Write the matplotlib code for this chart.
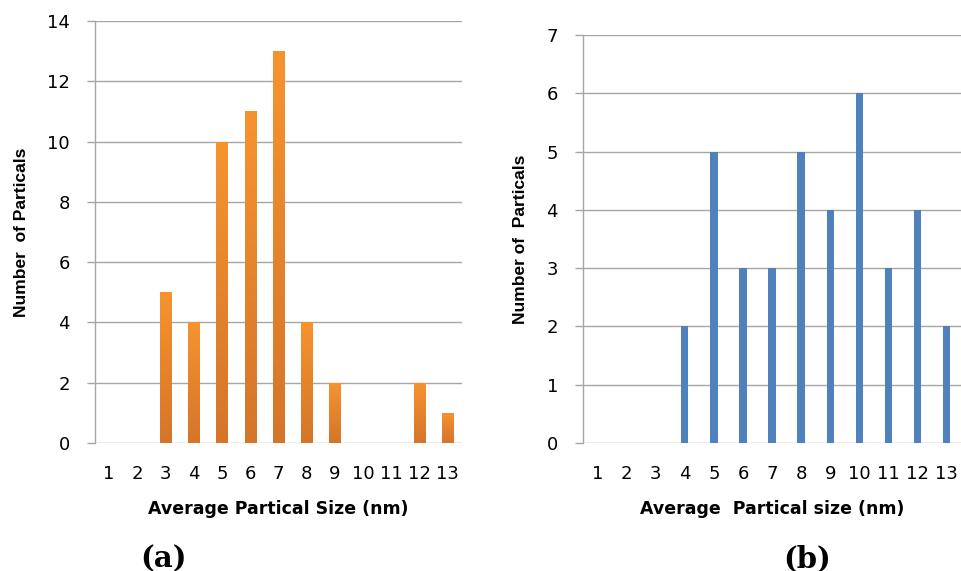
import numpy as np
import matplotlib.pyplot as plt
from matplotlib.colors import LinearSegmentedColormap

sizes = [1, 2, 3, 4, 5, 6, 7, 8, 9, 10, 11, 12, 13]
counts_a = [0, 0, 5, 4, 10, 11, 13, 4, 2, 0, 0, 2, 1]
counts_b = [0, 0, 0, 2, 5, 3, 3, 5, 4, 6, 3, 4, 2]

grid_col = '#a6a6a6'

fig = plt.figure(figsize=(9.61, 5.71), dpi=100)
ax1 = fig.add_axes([0.0989, 0.2242, 0.3819, 0.739])
ax2 = fig.add_axes([0.6067, 0.2242, 0.3933, 0.7145])

orange = LinearSegmentedColormap.from_list('og', ['#d4752a', '#f7932f'])


def style(ax, ymax, step):
    ax.set_xlim(0.5, 13.5)
    ax.set_ylim(0, ymax)
    ax.set_yticks(np.arange(0, ymax + 0.1, step))
    ax.set_xticks(sizes)
    ax.set_xticklabels([str(s) for s in sizes])
    ax.grid(axis='y', color=grid_col, lw=1.0, zorder=0)
    ax.set_axisbelow(True)
    for s in ['top', 'right', 'bottom']:
        ax.spines[s].set_visible(False)
    ax.spines['left'].set_color(grid_col)
    ax.spines['left'].set_linewidth(1.0)
    ax.tick_params(axis='y', length=6, color=grid_col, width=1.0, pad=12,
                   labelsize=13)
    ax.tick_params(axis='x', length=0, pad=16, labelsize=13)


# panel (a) - orange bars with vertical gradient
bars = ax1.bar(sizes, counts_a, width=0.4, color='none', zorder=2)
grad = np.linspace(0, 1, 256).reshape(-1, 1)
for b in bars:
    if b.get_height() <= 0:
        continue
    x0, y0 = b.get_x(), b.get_y()
    im = ax1.imshow(grad, cmap=orange, origin='lower', aspect='auto',
                    extent=[x0, x0 + b.get_width(), y0, y0 + b.get_height()],
                    zorder=2)
    im.set_clip_path(b)
style(ax1, 14, 2)
ax1.set_ylabel('Number  of Particals', fontsize=12.5, fontweight='bold',
               family='Liberation Sans')
ax1.yaxis.set_label_coords(-0.181, 0.5)
ax1.set_xlabel('Average Partical Size (nm)', fontsize=12.5, fontweight='bold',
               labelpad=12)

# panel (b) - blue bars
ax2.bar(sizes, counts_b, width=0.25, color='#4f81bd', zorder=2)
style(ax2, 7, 1)
ax2.set_ylabel('Number of  Particals', fontsize=12.5, fontweight='bold',
               family='Liberation Sans')
ax2.yaxis.set_label_coords(-0.146, 0.5)
ax2.set_xlabel('Average  Partical size (nm)', fontsize=12.5, fontweight='bold',
               labelpad=12)

fig.text(0.170, 0.022, '(a)', fontsize=21, fontweight='bold',
         family='DejaVu Serif', ha='center', va='center')
fig.text(0.840, 0.022, '(b)', fontsize=21, fontweight='bold',
         family='DejaVu Serif', ha='center', va='center')

fig.savefig('out.png', dpi=100)
